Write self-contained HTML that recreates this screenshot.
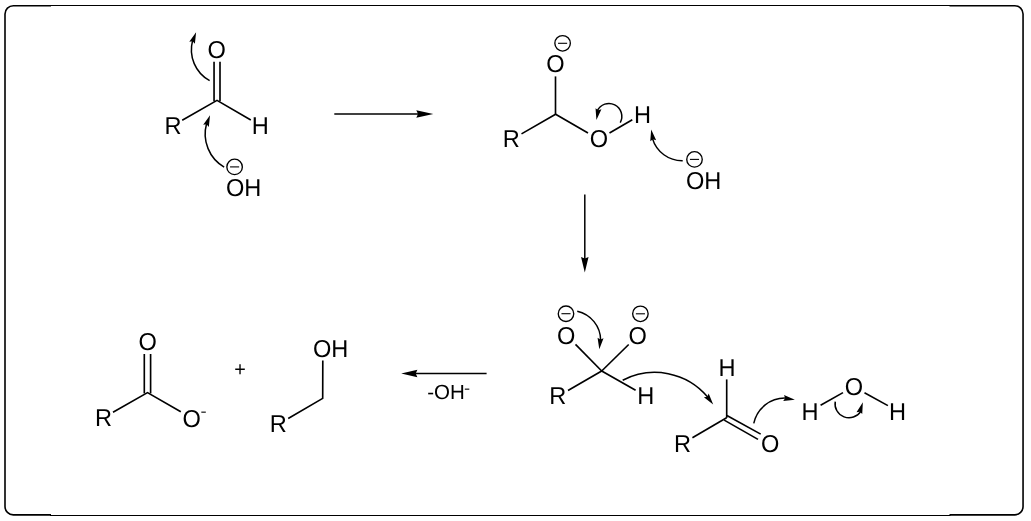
<!DOCTYPE html>
<html><head><meta charset="utf-8"><title>Cannizzaro reaction mechanism</title>
<style>
html,body{margin:0;padding:0;background:#fff;}
body{width:1031px;height:521px;overflow:hidden;}
svg{display:block;font-family:"Liberation Sans",sans-serif;fill:#000;filter:grayscale(1);}
text{text-rendering:geometricPrecision;}
</style></head><body>
<svg width="1031" height="521" viewBox="0 0 1031 521">
<rect width="1031" height="521" fill="#fff"/>
<line x1="50.00" y1="5.50" x2="950.50" y2="5.50" stroke="#000" stroke-width="1"/>
<line x1="50.00" y1="515.50" x2="950.50" y2="515.50" stroke="#000" stroke-width="1"/>
<path d="M51,5.7 H13.3 A8.3,8.3 0 0 0 5.0,14.0 V506.55 A8.3,8.3 0 0 0 13.3,514.85 H51" fill="none" stroke="#000" stroke-width="1.6"/>
<path d="M949.5,5.7 H1014.75 A8.3,8.3 0 0 1 1023.05,14.0 V506.55 A8.3,8.3 0 0 1 1014.75,514.85 H949.5" fill="none" stroke="#000" stroke-width="1.6"/>
<line x1="214.05" y1="61.70" x2="214.05" y2="101.20" stroke="#000" stroke-width="1.65"/>
<line x1="220.00" y1="61.70" x2="220.00" y2="101.20" stroke="#000" stroke-width="1.65"/>
<polyline points="182.20,120.20 217.00,100.40 250.80,120.00" fill="none" stroke="#000" stroke-width="1.65" stroke-linejoin="miter"/>
<text transform="translate(207.60 57.70) scale(1 1.04)" font-size="23.6">O</text>
<text transform="translate(164.40 133.50) scale(1 1.04)" font-size="23.6">R</text>
<text transform="translate(251.80 133.50) scale(1 1.04)" font-size="23.6">H</text>
<text transform="translate(226.00 195.80) scale(1 1.04)" font-size="23.6">OH</text>
<circle cx="234.60" cy="166.90" r="7.75" fill="none" stroke="#000" stroke-width="1.35"/>
<line x1="230.05" y1="166.90" x2="239.15" y2="166.90" stroke="#000" stroke-width="1.1"/>
<polygon points="196.10,32.14 194.88,43.87 192.64,41.31 189.27,41.75" fill="#000"/>
<path d="M209.64,80.63 A35.22,35.22 0 0 1 192.58,40.64" fill="none" stroke="#000" stroke-width="1.5"/>
<polygon points="210.03,115.17 208.82,126.90 206.58,124.34 203.21,124.79" fill="#000"/>
<path d="M224.14,167.10 A38.52,38.52 0 0 1 206.54,123.68" fill="none" stroke="#000" stroke-width="1.5"/>
<polygon points="433.30,114.10 416.30,117.85 418.00,114.10 416.30,110.35" fill="#000"/>
<line x1="334.30" y1="114.10" x2="418.60" y2="114.10" stroke="#000" stroke-width="1.5"/>
<line x1="555.50" y1="76.40" x2="555.50" y2="114.60" stroke="#000" stroke-width="1.65"/>
<polyline points="521.50,133.90 555.60,114.20 588.00,133.00" fill="none" stroke="#000" stroke-width="1.65" stroke-linejoin="miter"/>
<line x1="609.50" y1="133.00" x2="632.30" y2="119.70" stroke="#000" stroke-width="1.65"/>
<text transform="translate(546.20 72.40) scale(1 1.04)" font-size="23.6">O</text>
<text transform="translate(502.80 147.40) scale(1 1.04)" font-size="23.6">R</text>
<text transform="translate(589.70 147.40) scale(1 1.04)" font-size="23.6">O</text>
<text transform="translate(634.00 122.80) scale(1 1.04)" font-size="23.6">H</text>
<circle cx="562.60" cy="43.30" r="7.75" fill="none" stroke="#000" stroke-width="1.35"/>
<line x1="558.05" y1="43.30" x2="567.15" y2="43.30" stroke="#000" stroke-width="1.1"/>
<text transform="translate(686.00 188.60) scale(1 1.04)" font-size="23.6">OH</text>
<circle cx="694.50" cy="159.40" r="7.75" fill="none" stroke="#000" stroke-width="1.35"/>
<line x1="689.95" y1="159.40" x2="699.05" y2="159.40" stroke="#000" stroke-width="1.1"/>
<polygon points="596.41,119.97 595.53,108.21 598.19,110.33 601.43,109.30" fill="#000"/>
<path d="M620.26,122.53 A12.92,12.92 0 1 0 597.24,110.81" fill="none" stroke="#000" stroke-width="1.5"/>
<polygon points="651.20,129.50 656.16,140.20 652.92,139.15 650.25,141.25" fill="#000"/>
<path d="M682.70,160.67 A30.90,30.90 0 0 1 652.49,138.61" fill="none" stroke="#000" stroke-width="1.5"/>
<polygon points="584.80,272.60 581.05,256.90 584.80,258.60 588.55,256.90" fill="#000"/>
<line x1="584.80" y1="194.60" x2="584.80" y2="259.20" stroke="#000" stroke-width="1.5"/>
<line x1="575.50" y1="344.30" x2="601.70" y2="371.00" stroke="#000" stroke-width="1.65"/>
<line x1="628.70" y1="344.50" x2="601.70" y2="371.00" stroke="#000" stroke-width="1.65"/>
<polyline points="568.00,390.50 601.70,371.00 635.60,390.20" fill="none" stroke="#000" stroke-width="1.65" stroke-linejoin="miter"/>
<text transform="translate(557.10 344.00) scale(1 1.04)" font-size="23.6">O</text>
<text transform="translate(628.40 344.00) scale(1 1.04)" font-size="23.6">O</text>
<text transform="translate(549.30 403.70) scale(1 1.04)" font-size="23.6">R</text>
<text transform="translate(637.30 403.70) scale(1 1.04)" font-size="23.6">H</text>
<circle cx="566.00" cy="313.70" r="7.75" fill="none" stroke="#000" stroke-width="1.35"/>
<line x1="561.45" y1="313.70" x2="570.55" y2="313.70" stroke="#000" stroke-width="1.1"/>
<circle cx="640.40" cy="313.80" r="7.75" fill="none" stroke="#000" stroke-width="1.35"/>
<line x1="635.85" y1="313.80" x2="644.95" y2="313.80" stroke="#000" stroke-width="1.1"/>
<polygon points="599.30,349.31 597.57,337.64 600.38,339.56 603.53,338.31" fill="#000"/>
<path d="M577.25,311.18 A29.95,29.95 0 0 1 600.65,340.21" fill="none" stroke="#000" stroke-width="1.5"/>
<polygon points="713.19,404.51 703.91,397.23 707.27,396.70 708.69,393.61" fill="#000"/>
<path d="M622.70,380.22 A69.28,69.28 0 0 1 707.75,397.09" fill="none" stroke="#000" stroke-width="1.5"/>
<line x1="726.70" y1="379.40" x2="726.70" y2="417.90" stroke="#000" stroke-width="1.65"/>
<line x1="692.40" y1="437.80" x2="726.60" y2="417.70" stroke="#000" stroke-width="1.65"/>
<line x1="726.90" y1="415.50" x2="760.70" y2="434.10" stroke="#000" stroke-width="1.65"/>
<line x1="724.20" y1="420.10" x2="758.00" y2="439.40" stroke="#000" stroke-width="1.65"/>
<text transform="translate(718.60 375.80) scale(1 1.04)" font-size="23.6">H</text>
<text transform="translate(674.10 451.60) scale(1 1.04)" font-size="23.6">R</text>
<text transform="translate(760.90 451.80) scale(1 1.04)" font-size="23.6">O</text>
<polygon points="794.89,399.64 783.18,401.05 785.18,398.30 784.01,395.11" fill="#000"/>
<path d="M753.76,423.43 A31.85,31.85 0 0 1 785.82,398.06" fill="none" stroke="#000" stroke-width="1.5"/>
<line x1="820.60" y1="405.30" x2="843.00" y2="392.60" stroke="#000" stroke-width="1.65"/>
<line x1="864.50" y1="392.80" x2="887.90" y2="405.60" stroke="#000" stroke-width="1.65"/>
<text transform="translate(801.50 419.70) scale(1 1.04)" font-size="23.6">H</text>
<text transform="translate(844.70 395.00) scale(1 1.04)" font-size="23.6">O</text>
<text transform="translate(888.90 419.70) scale(1 1.04)" font-size="23.6">H</text>
<polygon points="862.86,402.33 862.22,414.10 859.85,411.65 856.50,412.26" fill="#000"/>
<path d="M835.26,401.51 A13.94,13.94 0 0 0 860.79,411.29" fill="none" stroke="#000" stroke-width="1.5"/>
<polygon points="401.20,373.40 417.40,369.65 415.70,373.40 417.40,377.15" fill="#000"/>
<line x1="486.60" y1="373.40" x2="415.10" y2="373.40" stroke="#000" stroke-width="1.5"/>
<text transform="translate(427.2 399.3)" font-size="20.5">-OH</text>
<text transform="translate(464.1 393.4) scale(1.08 0.85)" font-size="17">-</text>
<line x1="144.30" y1="354.00" x2="144.30" y2="393.40" stroke="#000" stroke-width="1.65"/>
<line x1="150.60" y1="354.00" x2="150.60" y2="393.40" stroke="#000" stroke-width="1.65"/>
<polyline points="113.00,412.30 147.50,392.60 180.80,411.70" fill="none" stroke="#000" stroke-width="1.65" stroke-linejoin="miter"/>
<text transform="translate(138.50 350.20) scale(1 1.04)" font-size="23.6">O</text>
<text transform="translate(95.00 425.80) scale(1 1.04)" font-size="23.6">R</text>
<text transform="translate(182.40 426.80) scale(1 1.04)" font-size="23.6">O</text>
<text transform="translate(200.4 415.6) scale(1.08 0.85)" font-size="17">-</text>
<text transform="translate(240.00 375.70) scale(1 1.04)" font-size="19.8" text-anchor="middle">+</text>
<text transform="translate(313.00 356.90) scale(1 1.04)" font-size="23.6">OH</text>
<text transform="translate(269.80 431.70) scale(1 1.04)" font-size="23.6">R</text>
<polyline points="322.80,360.50 322.70,398.40 288.20,418.50" fill="none" stroke="#000" stroke-width="1.65" stroke-linejoin="miter"/>
</svg>
</body></html>
